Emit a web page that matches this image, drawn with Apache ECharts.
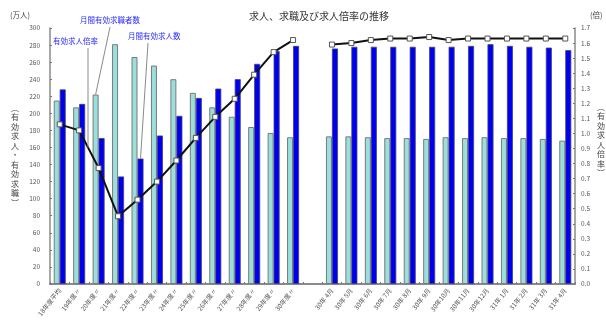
<!DOCTYPE html>
<html>
<head>
<meta charset="utf-8">
<script src="https://cdn.jsdelivr.net/npm/echarts@6/dist/echarts.min.js"></script>
<style>
  html, body { margin: 0; padding: 0; background: #fff; }
  #chart { width: 606px; height: 320px; }
</style>
</head>
<body>
<div id="chart"></div>
<script>
// Fiscal-year averages, a blank spacer slot, then monthly figures
const categories = [
  '18年度平均', '19年度〃', '20年度〃', '21年度〃', '22年度〃', '23年度〃', '24年度〃',
  '25年度〃', '26年度〃', '27年度〃', '28年度〃', '29年度〃', '30年度〃',
  '',
  '30年 4月', '30年 5月', '30年 6月', '30年 7月', '30年 8月', '30年 9月', '30年10月',
  '30年11月', '30年12月', '31年 1月', '31年 2月', '31年 3月', '31年 4月'
];

// 月間有効求職者数 (万人)
const seekers = [
  215, 207, 222, 281, 266, 256, 240, 224, 207, 196, 184, 177, 172,
  null,
  173, 173, 172, 171, 171, 170, 172, 171, 172, 171, 171, 170, 168
];

// 月間有効求人数 (万人)
const openings = [
  228, 211, 171, 126, 147, 174, 197, 218, 229, 240, 258, 273, 279,
  null,
  276, 278, 278, 278, 278, 278, 278, 279, 281, 279, 278, 277, 274
];

// 有効求人倍率 (倍)
const ratio = [
  1.06, 1.02, 0.77, 0.45, 0.56, 0.68, 0.82, 0.97, 1.11, 1.23, 1.39, 1.54, 1.62,
  null,
  1.59, 1.60, 1.62, 1.63, 1.63, 1.64, 1.62, 1.63, 1.63, 1.63, 1.63, 1.63, 1.63
];

const FONT = '"Noto Sans CJK JP", "Noto Sans", sans-serif';
const BAR_W = 6;

const chart = echarts.init(document.getElementById('chart'), null, { renderer: 'canvas' });

const vertical = s => Array.from(s).join('\n');

const option = {
  animation: false,
  backgroundColor: '#fff',
  textStyle: { fontFamily: FONT },
  grid: { left: 50, right: 31, top: 28, bottom: 36 },
  xAxis: {
    type: 'category',
    data: categories,
    axisLine: { lineStyle: { color: '#8a8a8a', width: 2 } },
    axisTick: { show: true, inside: true, length: 2, lineStyle: { color: '#777' } },
    axisLabel: {
      interval: 0, rotate: 52, fontSize: 6.5, color: '#555', margin: 5, fontFamily: FONT
    }
  },
  yAxis: [
    {
      type: 'value', min: 0, max: 300, interval: 20,
      axisLine: { show: true, lineStyle: { color: '#8a8a8a', width: 1.5 } },
      axisTick: { show: true, inside: true, length: 2, lineStyle: { color: '#777' } },
      axisLabel: { fontSize: 6.5, color: '#555', margin: 10, fontFamily: FONT },
      splitLine: { show: false }
    },
    {
      type: 'value', min: 0, max: 1.7, interval: 0.1, position: 'right',
      axisLine: { show: true, lineStyle: { color: '#8a8a8a', width: 1.5 } },
      axisTick: { show: true, inside: true, length: 2, lineStyle: { color: '#777' } },
      axisLabel: {
        fontSize: 6.5, color: '#555', margin: 6, fontFamily: FONT,
        formatter: v => v.toFixed(1)
      },
      splitLine: { show: false }
    }
  ],
  series: [
    {
      name: '月間有効求職者数',
      type: 'bar',
      data: seekers,
      barWidth: BAR_W,
      barGap: '0%',
      itemStyle: { color: '#9adfdc', borderColor: '#7a7a7a', borderWidth: 1 }
    },
    {
      name: '月間有効求人数',
      type: 'bar',
      data: openings,
      barWidth: BAR_W,
      barGap: '0%',
      itemStyle: { color: '#0000f0', borderColor: '#44446a', borderWidth: 0.8 }
    },
    {
      name: '有効求人倍率',
      type: 'line',
      yAxisIndex: 1,
      data: ratio,
      connectNulls: false,
      symbol: 'rect',
      symbolSize: 5,
      lineStyle: { color: '#111', width: 2 },
      itemStyle: { color: '#fff', borderColor: '#555', borderWidth: 1 },
      z: 5
    }
  ]
};

chart.setOption(option);

// Callout labels with leader lines to the marks they name
const px = (seriesIndex, idx, val) => chart.convertToPixel({ seriesIndex }, [idx, val]);

const seekTop = px(0, 2, seekers[2]);      // 20年度 求職者 bar
const openTop = px(1, 4, openings[4]);     // 22年度 求人 bar
const r1 = px(2, 1, ratio[1]);
const r2 = px(2, 2, ratio[2]);
const t = 0.45;
const ratioPt = [r1[0] + (r2[0] - r1[0]) * t, r1[1] + (r2[1] - r1[1]) * t];

const calloutStyle = { fill: '#2a2aff', fontSize: 7.5, fontFamily: FONT };
const leader = { stroke: '#8a8a8a', lineWidth: 1 };

chart.setOption({
  graphic: [
    { type: 'text', left: 249, top: 11, style: { text: '求人、求職及び求人倍率の推移', fill: '#333', fontSize: 10, fontFamily: FONT } },
    { type: 'text', left: 10, top: 11, style: { text: '(万人)', fill: '#444', fontSize: 7.5, fontFamily: FONT } },
    { type: 'text', left: 590, top: 11, style: { text: '(倍)', fill: '#444', fontSize: 7.5, fontFamily: FONT } },
    {
      type: 'text', x: 15, y: 155,
      style: { text: vertical('︵有効求人・有効求職︶'), fill: '#444', fontSize: 8, lineHeight: 9.5, align: 'center', verticalAlign: 'middle', fontFamily: FONT }
    },
    {
      type: 'text', x: 601, y: 140,
      style: { text: vertical('︵有効求人倍率︶'), fill: '#444', fontSize: 8, lineHeight: 9.5, align: 'center', verticalAlign: 'middle', fontFamily: FONT }
    },
    { type: 'text', left: 53, top: 37, style: Object.assign({ text: '有効求人倍率' }, calloutStyle) },
    { type: 'text', left: 80, top: 16, style: Object.assign({ text: '月間有効求職者数' }, calloutStyle) },
    { type: 'text', left: 128, top: 32, style: Object.assign({ text: '月間有効求人数' }, calloutStyle) },
    { type: 'line', shape: { x1: 88, y1: 48, x2: 88, y2: ratioPt[1] }, style: leader, z: 10 },
    { type: 'line', shape: { x1: 110, y1: 27, x2: seekTop[0] - BAR_W / 2, y2: seekTop[1] }, style: leader, z: 10 },
    { type: 'line', shape: { x1: 148, y1: 43, x2: openTop[0] + BAR_W / 2, y2: openTop[1] }, style: leader, z: 10 }
  ]
});
</script>
</body>
</html>
